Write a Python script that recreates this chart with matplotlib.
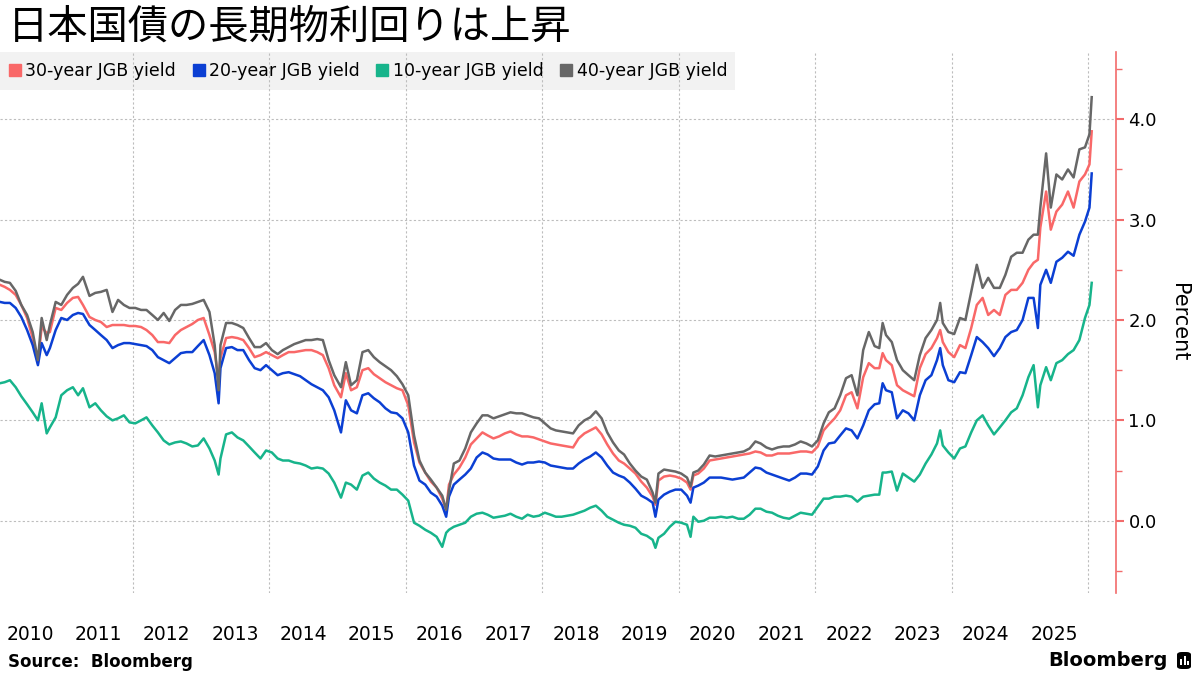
import matplotlib
matplotlib.use("Agg")
import matplotlib.pyplot as plt
import matplotlib.dates as mdates
from matplotlib.patches import Rectangle, FancyBboxPatch
from matplotlib.lines import Line2D
from matplotlib.ticker import FixedLocator, MultipleLocator
import pandas as pd

title = "日本国債の長期物利回りは上昇"
series_names = ["30-year JGB yield", "20-year JGB yield", "10-year JGB yield", "40-year JGB yield"]
series_colors = ["#f96868", "#0b3fd3", "#17b48b", "#676767"]

dates = [
    "2010-01-21", "2010-02-15", "2010-03-15", "2010-04-15", "2010-05-15", "2010-06-15", "2010-07-15", "2010-08-12", "2010-09-01", "2010-09-28", "2010-10-15", "2010-11-15", "2010-12-15",
    "2011-01-15", "2011-02-15", "2011-03-15", "2011-04-10", "2011-05-15", "2011-06-15", "2011-07-15", "2011-08-15", "2011-09-15", "2011-10-15", "2011-11-15", "2011-12-15",
    "2012-01-15", "2012-02-15", "2012-03-15", "2012-04-15", "2012-05-15", "2012-06-15", "2012-07-15", "2012-08-15", "2012-09-15", "2012-10-15", "2012-11-15", "2012-12-15",
    "2013-01-15", "2013-02-15", "2013-03-15", "2013-04-05", "2013-04-15", "2013-05-15", "2013-06-15", "2013-07-15", "2013-08-15", "2013-09-15", "2013-10-15", "2013-11-15", "2013-12-15",
    "2014-01-15", "2014-02-15", "2014-03-15", "2014-04-15", "2014-05-15", "2014-06-15", "2014-07-15", "2014-08-15", "2014-09-15", "2014-10-15", "2014-11-15", "2014-12-15",
    "2015-01-20", "2015-02-15", "2015-03-15", "2015-04-15", "2015-05-15", "2015-06-15", "2015-07-15", "2015-08-15", "2015-09-15", "2015-10-15", "2015-11-15", "2015-12-15",
    "2016-01-15", "2016-02-15", "2016-03-15", "2016-04-15", "2016-05-15", "2016-06-15", "2016-07-15", "2016-08-05", "2016-08-20", "2016-09-15", "2016-10-15", "2016-11-15", "2016-12-15",
    "2017-01-15", "2017-02-15", "2017-03-15", "2017-04-15", "2017-05-15", "2017-06-15", "2017-07-15", "2017-08-15", "2017-09-15", "2017-10-15", "2017-11-15", "2017-12-15",
    "2018-01-15", "2018-02-15", "2018-03-15", "2018-04-15", "2018-05-15", "2018-06-15", "2018-07-15", "2018-08-15", "2018-09-15", "2018-10-15", "2018-11-15", "2018-12-15",
    "2019-01-15", "2019-02-15", "2019-03-15", "2019-04-15", "2019-05-15", "2019-06-15", "2019-07-15", "2019-08-15", "2019-08-30", "2019-09-15", "2019-10-15", "2019-11-15", "2019-12-15",
    "2020-01-15", "2020-02-15", "2020-03-05", "2020-03-20", "2020-04-15", "2020-05-15", "2020-06-15", "2020-07-15", "2020-08-15", "2020-09-15", "2020-10-15", "2020-11-15", "2020-12-15",
    "2021-01-15", "2021-02-15", "2021-03-15", "2021-04-15", "2021-05-15", "2021-06-15", "2021-07-15", "2021-08-15", "2021-09-15", "2021-10-15", "2021-11-15", "2021-12-15",
    "2022-01-15", "2022-02-15", "2022-03-15", "2022-04-15", "2022-05-15", "2022-06-15", "2022-07-15", "2022-08-15", "2022-09-15", "2022-10-15", "2022-11-15", "2022-12-10", "2022-12-28",
    "2023-01-15", "2023-02-15", "2023-03-15", "2023-04-15", "2023-05-15", "2023-06-15", "2023-07-15", "2023-08-15", "2023-09-15", "2023-10-15", "2023-11-01", "2023-11-15", "2023-12-15",
    "2024-01-15", "2024-02-15", "2024-03-15", "2024-04-15", "2024-05-15", "2024-06-15", "2024-07-15", "2024-08-15", "2024-09-15", "2024-10-15", "2024-11-15", "2024-12-15",
    "2025-01-15", "2025-02-15", "2025-03-15", "2025-04-07", "2025-04-20", "2025-05-21", "2025-06-15", "2025-07-15", "2025-08-15", "2025-09-15", "2025-10-15", "2025-11-15", "2025-12-15",
    "2026-01-08", "2026-01-20",
]

jgb10 = [
    1.37, 1.38, 1.40, 1.33, 1.24, 1.16, 1.08, 1.00, 1.17, 0.87, 0.93, 1.03, 1.25,
    1.30, 1.33, 1.25, 1.32, 1.13, 1.17, 1.10, 1.04, 1.00, 1.02, 1.05, 0.98,
    0.97, 1.00, 1.03, 0.95, 0.88, 0.80, 0.76, 0.78, 0.79, 0.77, 0.74, 0.75,
    0.82, 0.72, 0.60, 0.46, 0.62, 0.86, 0.88, 0.83, 0.80, 0.74, 0.68, 0.62, 0.70,
    0.68, 0.62, 0.60, 0.60, 0.58, 0.57, 0.55, 0.52, 0.53, 0.52, 0.47, 0.38,
    0.23, 0.38, 0.36, 0.31, 0.45, 0.48, 0.42, 0.38, 0.35, 0.31, 0.31, 0.26,
    0.20, -0.02, -0.05, -0.09, -0.12, -0.16, -0.26, -0.12, -0.09, -0.06, -0.04, -0.02, 0.04,
    0.07, 0.08, 0.06, 0.03, 0.04, 0.05, 0.07, 0.04, 0.02, 0.06, 0.04, 0.05,
    0.08, 0.06, 0.04, 0.04, 0.05, 0.06, 0.08, 0.10, 0.13, 0.15, 0.10, 0.04,
    0.01, -0.02, -0.04, -0.05, -0.07, -0.13, -0.15, -0.19, -0.27, -0.17, -0.13, -0.06, -0.01,
    -0.02, -0.04, -0.16, 0.04, -0.01, 0.00, 0.03, 0.03, 0.04, 0.03, 0.04, 0.02, 0.02,
    0.06, 0.12, 0.12, 0.09, 0.08, 0.05, 0.03, 0.02, 0.05, 0.08, 0.07, 0.06,
    0.14, 0.22, 0.22, 0.24, 0.24, 0.25, 0.24, 0.19, 0.24, 0.25, 0.26, 0.26, 0.48,
    0.48, 0.49, 0.30, 0.47, 0.43, 0.39, 0.46, 0.57, 0.66, 0.77, 0.90, 0.75, 0.68,
    0.62, 0.72, 0.74, 0.88, 1.00, 1.05, 0.95, 0.86, 0.93, 1.00, 1.08, 1.12,
    1.25, 1.43, 1.55, 1.13, 1.35, 1.53, 1.40, 1.57, 1.60, 1.66, 1.70, 1.80, 2.02,
    2.15, 2.37,
]

jgb20 = [
    2.18, 2.17, 2.17, 2.12, 2.03, 1.90, 1.75, 1.55, 1.77, 1.65, 1.72, 1.90, 2.02,
    2.00, 2.05, 2.07, 2.06, 1.95, 1.90, 1.85, 1.80, 1.72, 1.75, 1.77, 1.77,
    1.76, 1.75, 1.74, 1.70, 1.63, 1.60, 1.57, 1.62, 1.67, 1.68, 1.68, 1.74,
    1.80, 1.65, 1.47, 1.17, 1.52, 1.72, 1.73, 1.70, 1.70, 1.60, 1.52, 1.50, 1.55,
    1.50, 1.45, 1.47, 1.48, 1.46, 1.44, 1.40, 1.36, 1.33, 1.30, 1.23, 1.10,
    0.88, 1.20, 1.10, 1.07, 1.25, 1.27, 1.22, 1.18, 1.12, 1.08, 1.07, 1.02,
    0.88, 0.55, 0.40, 0.36, 0.28, 0.24, 0.15, 0.04, 0.24, 0.36, 0.41, 0.46, 0.52,
    0.63, 0.68, 0.66, 0.62, 0.61, 0.61, 0.61, 0.58, 0.56, 0.58, 0.58, 0.59,
    0.58, 0.55, 0.54, 0.53, 0.52, 0.52, 0.57, 0.61, 0.64, 0.68, 0.63, 0.55,
    0.48, 0.45, 0.43, 0.38, 0.32, 0.25, 0.22, 0.18, 0.04, 0.21, 0.26, 0.29, 0.31,
    0.31, 0.25, 0.18, 0.33, 0.35, 0.38, 0.43, 0.43, 0.43, 0.42, 0.41, 0.42, 0.43,
    0.48, 0.53, 0.52, 0.48, 0.46, 0.44, 0.42, 0.40, 0.43, 0.47, 0.47, 0.46,
    0.54, 0.70, 0.77, 0.78, 0.85, 0.92, 0.90, 0.82, 0.95, 1.10, 1.16, 1.17, 1.37,
    1.30, 1.28, 1.02, 1.10, 1.07, 1.00, 1.25, 1.40, 1.45, 1.60, 1.72, 1.55, 1.40,
    1.38, 1.48, 1.47, 1.65, 1.83, 1.78, 1.72, 1.64, 1.72, 1.83, 1.88, 1.90,
    2.00, 2.22, 2.22, 1.92, 2.35, 2.50, 2.37, 2.58, 2.62, 2.68, 2.64, 2.85, 2.98,
    3.12, 3.46,
]

jgb30 = [
    2.35, 2.33, 2.30, 2.25, 2.15, 2.02, 1.82, 1.57, 1.93, 1.87, 1.88, 2.12, 2.10,
    2.17, 2.22, 2.23, 2.15, 2.03, 2.00, 1.98, 1.93, 1.95, 1.95, 1.95, 1.94,
    1.94, 1.93, 1.90, 1.85, 1.78, 1.78, 1.77, 1.85, 1.90, 1.93, 1.96, 2.00,
    2.02, 1.85, 1.68, 1.40, 1.62, 1.82, 1.83, 1.82, 1.80, 1.72, 1.63, 1.65, 1.68,
    1.65, 1.62, 1.65, 1.68, 1.68, 1.69, 1.70, 1.70, 1.68, 1.65, 1.52, 1.35,
    1.23, 1.47, 1.30, 1.33, 1.50, 1.52, 1.46, 1.42, 1.38, 1.35, 1.32, 1.30,
    1.15, 0.78, 0.58, 0.48, 0.39, 0.33, 0.22, 0.11, 0.36, 0.46, 0.53, 0.63, 0.76,
    0.82, 0.88, 0.85, 0.82, 0.84, 0.87, 0.89, 0.86, 0.84, 0.84, 0.83, 0.81,
    0.79, 0.77, 0.76, 0.75, 0.74, 0.73, 0.82, 0.87, 0.90, 0.93, 0.86, 0.76,
    0.67, 0.60, 0.57, 0.52, 0.47, 0.39, 0.33, 0.24, 0.16, 0.40, 0.44, 0.45, 0.44,
    0.42, 0.38, 0.31, 0.45, 0.47, 0.52, 0.60, 0.61, 0.62, 0.63, 0.64, 0.65, 0.66,
    0.67, 0.69, 0.68, 0.65, 0.65, 0.67, 0.67, 0.67, 0.68, 0.69, 0.69, 0.68,
    0.74, 0.90, 0.96, 1.02, 1.10, 1.25, 1.28, 1.12, 1.43, 1.57, 1.52, 1.52, 1.67,
    1.60, 1.55, 1.35, 1.30, 1.27, 1.24, 1.52, 1.66, 1.72, 1.82, 1.90, 1.78, 1.68,
    1.63, 1.75, 1.72, 1.92, 2.15, 2.22, 2.05, 2.10, 2.05, 2.25, 2.30, 2.30,
    2.37, 2.50, 2.57, 2.60, 2.92, 3.28, 2.90, 3.08, 3.15, 3.28, 3.12, 3.38, 3.45,
    3.55, 3.88,
]

jgb40 = [
    2.40, 2.38, 2.37, 2.29, 2.15, 2.05, 1.88, 1.60, 2.02, 1.80, 1.95, 2.18, 2.15,
    2.25, 2.32, 2.36, 2.43, 2.24, 2.27, 2.28, 2.30, 2.08, 2.20, 2.15, 2.12,
    2.12, 2.10, 2.10, 2.05, 2.00, 2.07, 1.99, 2.10, 2.15, 2.15, 2.16, 2.18,
    2.20, 2.08, 1.75, 1.30, 1.75, 1.97, 1.97, 1.95, 1.92, 1.82, 1.73, 1.73, 1.77,
    1.70, 1.66, 1.70, 1.73, 1.76, 1.78, 1.80, 1.80, 1.81, 1.80, 1.60, 1.45,
    1.33, 1.58, 1.35, 1.40, 1.68, 1.70, 1.63, 1.58, 1.54, 1.50, 1.44, 1.36,
    1.25, 0.85, 0.60, 0.48, 0.41, 0.33, 0.25, 0.11, 0.30, 0.57, 0.60, 0.72, 0.88,
    0.97, 1.05, 1.05, 1.02, 1.04, 1.06, 1.08, 1.07, 1.07, 1.05, 1.03, 1.02,
    0.97, 0.92, 0.90, 0.89, 0.88, 0.87, 0.95, 1.00, 1.03, 1.09, 1.02, 0.88,
    0.78, 0.70, 0.66, 0.57, 0.50, 0.44, 0.41, 0.28, 0.18, 0.47, 0.51, 0.50, 0.49,
    0.47, 0.43, 0.34, 0.48, 0.50, 0.56, 0.65, 0.64, 0.65, 0.66, 0.67, 0.68, 0.69,
    0.72, 0.79, 0.77, 0.73, 0.71, 0.73, 0.74, 0.74, 0.76, 0.79, 0.77, 0.74,
    0.80, 0.97, 1.08, 1.12, 1.25, 1.42, 1.45, 1.25, 1.70, 1.88, 1.74, 1.72, 1.97,
    1.85, 1.78, 1.60, 1.50, 1.45, 1.40, 1.65, 1.82, 1.90, 2.00, 2.17, 1.97, 1.88,
    1.86, 2.02, 2.00, 2.28, 2.55, 2.32, 2.42, 2.32, 2.32, 2.45, 2.63, 2.67,
    2.67, 2.80, 2.85, 2.85, 3.12, 3.66, 3.12, 3.45, 3.40, 3.50, 3.42, 3.70, 3.72,
    3.85, 4.22,
]

year_labels = [str(y) for y in range(2010, 2026)]
grid_years = [2012, 2014, 2016, 2018, 2020, 2022, 2024, 2026]
y_ticks = [0, 1, 2, 3, 4]

W, H = 1200, 675
fig = plt.figure(figsize=(12, 6.75), dpi=100)
ax = fig.add_axes([0, 1 - 593 / H, 1116 / W, (593 - 52) / H])
ax.set_facecolor("none")

# legend background (drawn under the gridlines)
fig.add_artist(Rectangle((0, 1 - 90 / H), 735 / W, 38 / H, transform=fig.transFigure,
                         facecolor="#f2f2f2", edgecolor="none", zorder=-1))

x = pd.to_datetime(dates)
for vals, name, col in zip([jgb30, jgb20, jgb10, jgb40], series_names, series_colors):
    ax.plot(x, vals, color=col, lw=1.8, label=name, solid_joinstyle="round")

ax.set_xlim(pd.Timestamp("2010-01-21"), pd.Timestamp("2026-05-30"))
ax.set_ylim(-0.72, 4.67)

red = "#f26b6b"
for s in ["left", "top", "bottom"]:
    ax.spines[s].set_visible(False)
ax.spines["right"].set_color(red)
ax.spines["right"].set_linewidth(1.2)

mid_years = [mdates.date2num(pd.Timestamp(f"{y}-07-02")) for y in range(2010, 2026)]
ax.set_xticks(mid_years)
ax.set_xticklabels(year_labels)
ax.xaxis.set_minor_locator(FixedLocator([mdates.date2num(pd.Timestamp(f"{y}-01-01")) for y in grid_years]))
ax.tick_params(axis="x", which="both", length=0, labelsize=13.5, pad=23)

ax.yaxis.tick_right()
ax.yaxis.set_label_position("right")
ax.set_yticks(y_ticks)
ax.set_yticklabels([f"{v:.1f}" for v in y_ticks])
ax.yaxis.set_minor_locator(MultipleLocator(0.5))
ax.tick_params(axis="y", which="major", color=red, length=6, width=1.5, labelsize=13, pad=3)
ax.tick_params(axis="y", which="minor", color=red, length=4, width=1)
ax.set_ylabel("Percent", rotation=270, fontsize=15, labelpad=23)

grid_kw = dict(color="#bdbdbd", linestyle=(0, (2, 2)), linewidth=0.8)
ax.grid(False)
ax.xaxis.grid(True, which="minor", **grid_kw)
ax.yaxis.grid(True, which="major", **grid_kw)
ax.set_axisbelow(True)

handles = [Line2D([0], [0], marker="s", linestyle="", color=c, markersize=8.5) for c in series_colors]
ax.legend(handles, series_names, ncol=4, loc="center left", bbox_to_anchor=(8 / W, 1 - 71 / H),
          bbox_transform=fig.transFigure, frameon=False, fontsize=12.5, handlelength=0.8,
          handletextpad=0.2, columnspacing=0.9, borderaxespad=0, borderpad=0)

fig.text(8 / W, 1 - 7 / H, title, fontsize=29, va="top", ha="left",
         family=["Noto Sans CJK JP", "DejaVu Sans"], color="black")
fig.text(8 / W, 1 - 662 / H, "Source:  Bloomberg", fontsize=12, fontweight="bold", va="center", ha="left")
fig.text(1168 / W, 1 - 660 / H, "Bloomberg", fontsize=14, fontweight="bold", va="center", ha="right")
fig.add_artist(FancyBboxPatch((1177 / W, 1 - 669 / H), 14 / W, 17 / H, boxstyle="round,pad=0,rounding_size=0.004",
                              transform=fig.transFigure, facecolor="black", edgecolor="none"))
for bx, bh in [(1180, 6), (1183.5, 9), (1187, 4)]:
    fig.add_artist(Rectangle((bx / W, 1 - 665 / H), 2 / W, bh / H, transform=fig.transFigure,
                             facecolor="white", edgecolor="none"))

fig.savefig("out.png", dpi=100)
